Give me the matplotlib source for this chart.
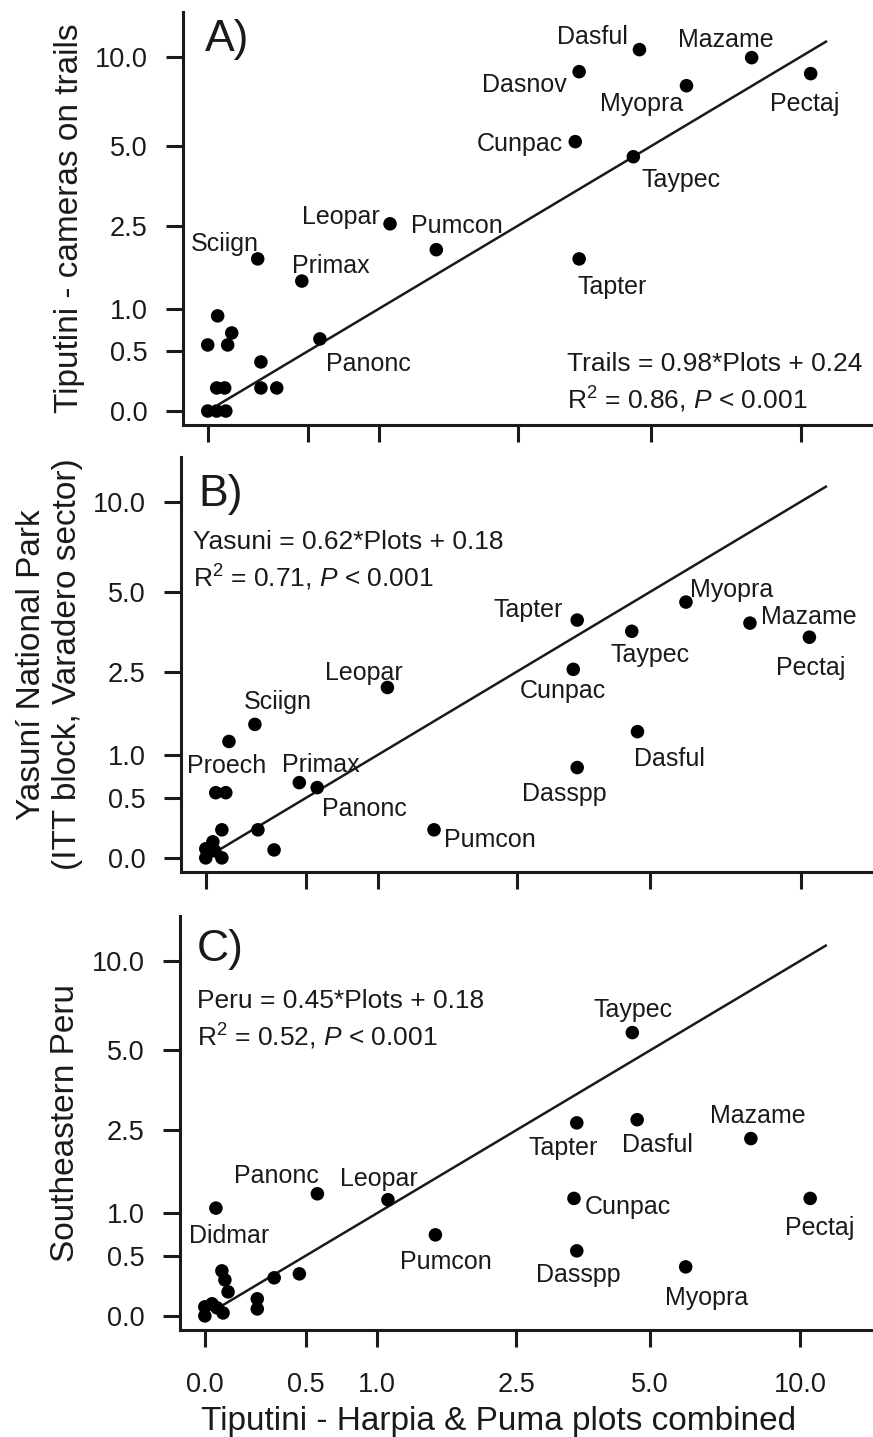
import numpy as np
import matplotlib
matplotlib.use('Agg')
import matplotlib.pyplot as plt

plt.rcParams['font.family'] = ['Liberation Sans', 'DejaVu Sans']
plt.rcParams['mathtext.fontset'] = 'custom'
plt.rcParams['mathtext.rm'] = 'Liberation Sans'
plt.rcParams['mathtext.it'] = 'Liberation Sans:italic'

INK = '#1a1a1a'

# ticks (axes use a log(x+1) scale)
ticks = [0, 0.5, 1, 2.5, 5, 10]
tick_labels = ['0.0', '0.5', '1.0', '2.5', '5.0', '10.0']

# 1:1 reference line
ref_x = [0.046, 11.18]

# Panel A - Tiputini trails
a_names = ['Dasful', 'Mazame', 'Dasnov', 'Myopra', 'Pectaj', 'Cunpac', 'Taypec',
           'Tapter', 'Pumcon', 'Leopar', 'Sciign', 'Primax', 'Panonc']
a_x = [4.73, 8.02, 3.49, 5.93, 10.45, 3.42, 4.59, 3.49, 1.52, 1.09, 0.224, 0.463, 0.574]
a_y = [10.54, 9.93, 8.94, 8.04, 8.81, 5.19, 4.59, 1.80, 1.98, 2.55, 1.80, 1.41, 0.629]
a_other_x = [0.041, 0.0, 0.102, 0.084, 0.24, 0.037, 0.071, 0.24, 0.322, 0.0, 0.037, 0.076]
a_other_y = [0.904, 0.564, 0.696, 0.564, 0.394, 0.169, 0.169, 0.169, 0.169, 0.0, 0.0, 0.0]

# Panel B - Yasuni
b_names = ['Tapter', 'Myopra', 'Mazame', 'Pectaj', 'Taypec', 'Cunpac', 'Dasful',
           'Dasspp', 'Pumcon', 'Leopar', 'Sciign', 'Proech', 'Primax', 'Panonc']
b_x = [3.47, 5.93, 7.97, 10.4, 4.57, 3.40, 4.70, 3.47, 1.51, 1.08, 0.219, 0.041, 0.458, 0.567]
b_y = [3.96, 4.60, 3.86, 3.42, 3.60, 2.56, 1.34, 0.837, 0.208, 2.15, 1.457, 0.551, 0.66, 0.605]
b_other_x = [0.098, 0.084, 0.067, 0.234, 0.317, 0.029, 0.0, 0.0, 0.067, 0.037]
b_other_y = [1.19, 0.551, 0.208, 0.208, 0.055, 0.114, 0.063, 0.0, 0.0, 0.048]

# Panel C - Southeastern Peru
c_names = ['Taypec', 'Tapter', 'Dasful', 'Mazame', 'Cunpac', 'Pectaj', 'Dasspp',
           'Myopra', 'Pumcon', 'Panonc', 'Leopar', 'Didmar']
c_x = [4.59, 3.47, 4.70, 8.01, 3.42, 10.44, 3.47, 5.93, 1.53, 0.573, 1.09, 0.0455]
c_y = [5.77, 2.68, 2.76, 2.31, 1.21, 1.21, 0.551, 0.392, 0.728, 1.28, 1.19, 1.07]
c_other_x = [0.071, 0.084, 0.098, 0.322, 0.463, 0.235, 0.235, 0.0, 0.0, 0.029, 0.05, 0.076]
c_other_y = [0.355, 0.275, 0.176, 0.293, 0.328, 0.122, 0.048, 0.0, 0.063, 0.085, 0.056, 0.02]

# label offsets in pixels (dx, dy, ha)
a_offsets = {'Dasful': (-12, 15, 'right'), 'Mazame': (-26, 20, 'center'),
             'Dasnov': (-12, -11, 'right'), 'Myopra': (-3, -16, 'right'),
             'Pectaj': (-6, -28, 'center'), 'Cunpac': (-12, 0, 'right'),
             'Taypec': (8, -21, 'left'), 'Tapter': (33, -26, 'center'),
             'Pumcon': (21, 26, 'center'), 'Leopar': (-10, 9, 'right'),
             'Sciign': (-33, 17, 'center'), 'Primax': (29, 18, 'center'),
             'Panonc': (49, -23, 'center')}
b_offsets = {'Tapter': (-14, 13, 'right'), 'Myopra': (4, 15, 'left'),
             'Mazame': (11, 9, 'left'), 'Pectaj': (1, -28, 'center'),
             'Taypec': (18, -21, 'center'), 'Cunpac': (-10, -19, 'center'),
             'Dasful': (32, -25, 'center'), 'Dasspp': (-13, -24, 'center'),
             'Pumcon': (10, -8, 'left'), 'Leopar': (-24, 17, 'center'),
             'Sciign': (23, 25, 'center'), 'Proech': (11, 29, 'center'),
             'Primax': (22, 20, 'center'), 'Panonc': (47, -19, 'center')}
c_offsets = {'Taypec': (1, 25, 'center'), 'Tapter': (-14, -23, 'center'),
             'Dasful': (20, -23, 'center'), 'Mazame': (7, 25, 'center'),
             'Cunpac': (11, -6, 'left'), 'Pectaj': (9, -27, 'center'),
             'Dasspp': (2, -22, 'center'), 'Myopra': (21, -29, 'center'),
             'Pumcon': (10, -25, 'center'), 'Panonc': (-41, 20, 'center'),
             'Leopar': (-9, 23, 'center'), 'Didmar': (13, -25, 'center')}


def setup(ax):
    ax.set_xscale('function', functions=(np.log1p, np.expm1))
    ax.set_yscale('function', functions=(np.log1p, np.expm1))
    ax.set_xlim(np.expm1(-0.1), np.expm1(2.69))
    ax.set_ylim(np.expm1(-0.095), np.expm1(2.70))
    ax.set_xticks(ticks)
    ax.set_yticks(ticks)
    ax.set_yticklabels(tick_labels)
    ax.minorticks_off()
    for s in ['top', 'right']:
        ax.spines[s].set_visible(False)
    for s in ['left', 'bottom']:
        ax.spines[s].set_linewidth(2.2)
        ax.spines[s].set_color(INK)
    ax.tick_params(length=12.5, width=2.2, color=INK, labelcolor=INK,
                   labelsize=19.5)
    ax.tick_params(axis='y', pad=13)
    ax.tick_params(axis='x', pad=18)


def draw(ax, names, xs, ys, ox, oy, offsets):
    ax.plot(ref_x, ref_x, color=INK, lw=1.8, zorder=2)
    ax.scatter(xs, ys, s=95, color='black', edgecolors='none', zorder=3)
    ax.scatter(ox, oy, s=95, color='black', edgecolors='none', zorder=3)
    for n, x, y in zip(names, xs, ys):
        dx, dy, ha = offsets[n]
        ax.annotate(n, (x, y), xytext=(dx, dy), textcoords='offset pixels',
                    ha=ha, va='center_baseline', fontsize=18, color=INK)


fig = plt.figure(figsize=(8.73, 14.37), dpi=100)
axA = fig.add_axes([0.2096, 0.7042, 0.7904, 0.2874])
axB = fig.add_axes([0.2073, 0.3932, 0.7927, 0.2888])
axC = fig.add_axes([0.2062, 0.0745, 0.7938, 0.2881])

for ax in (axA, axB, axC):
    setup(ax)
axA.set_xticklabels([])
axB.set_xticklabels([])
axC.set_xticklabels(tick_labels)

draw(axA, a_names, a_x, a_y, a_other_x, a_other_y, a_offsets)
draw(axB, b_names, b_x, b_y, b_other_x, b_other_y, b_offsets)
draw(axC, c_names, c_x, c_y, c_other_x, c_other_y, c_offsets)

# panel letters
axA.text(0.032, 0.944, 'A)', transform=axA.transAxes, fontsize=32,
         va='center_baseline', ha='left', color=INK)
axB.text(0.025, 0.920, 'B)', transform=axB.transAxes, fontsize=32,
         va='center_baseline', ha='left', color=INK)
axC.text(0.0245, 0.930, 'C)', transform=axC.transAxes, fontsize=32,
         va='center_baseline', ha='left', color=INK)

# regression statistics
eq = dict(fontsize=19, color=INK, va='center_baseline', ha='left')
axA.text(0.5565, 0.155, 'Trails = 0.98*Plots + 0.24', transform=axA.transAxes, **eq)
axA.text(0.5565, 0.068, r'R$^{2}$ = 0.86, $P$ < 0.001', transform=axA.transAxes, **eq)
axB.text(0.0173, 0.800, 'Yasuni = 0.62*Plots + 0.18', transform=axB.transAxes, **eq)
axB.text(0.0173, 0.716, r'R$^{2}$ = 0.71, $P$ < 0.001', transform=axB.transAxes, **eq)
axC.text(0.0245, 0.800, 'Peru = 0.45*Plots + 0.18', transform=axC.transAxes, **eq)
axC.text(0.0245, 0.715, r'R$^{2}$ = 0.52, $P$ < 0.001', transform=axC.transAxes, **eq)

# axis labels
lab = dict(fontsize=24, color=INK)
axA.set_ylabel('Tiputini - cameras on trails', **lab)
axA.yaxis.set_label_coords(-0.165, 0.5)
axB.set_ylabel('Yasuní National Park\n(ITT block, Varadero sector)',
               linespacing=1.2, **lab)
axB.yaxis.set_label_coords(-0.19, 0.5)
axC.set_ylabel('Southeastern Peru', **lab)
axC.yaxis.set_label_coords(-0.165, 0.5)
for ax in (axA, axB, axC):
    ax.yaxis.label.set_va('center')
axC.set_xlabel('Tiputini - Harpia & Puma plots combined', **lab)
axC.xaxis.set_label_coords(0.46, -0.222)
axC.xaxis.label.set_va('center')

fig.savefig('out.png', dpi=100)
